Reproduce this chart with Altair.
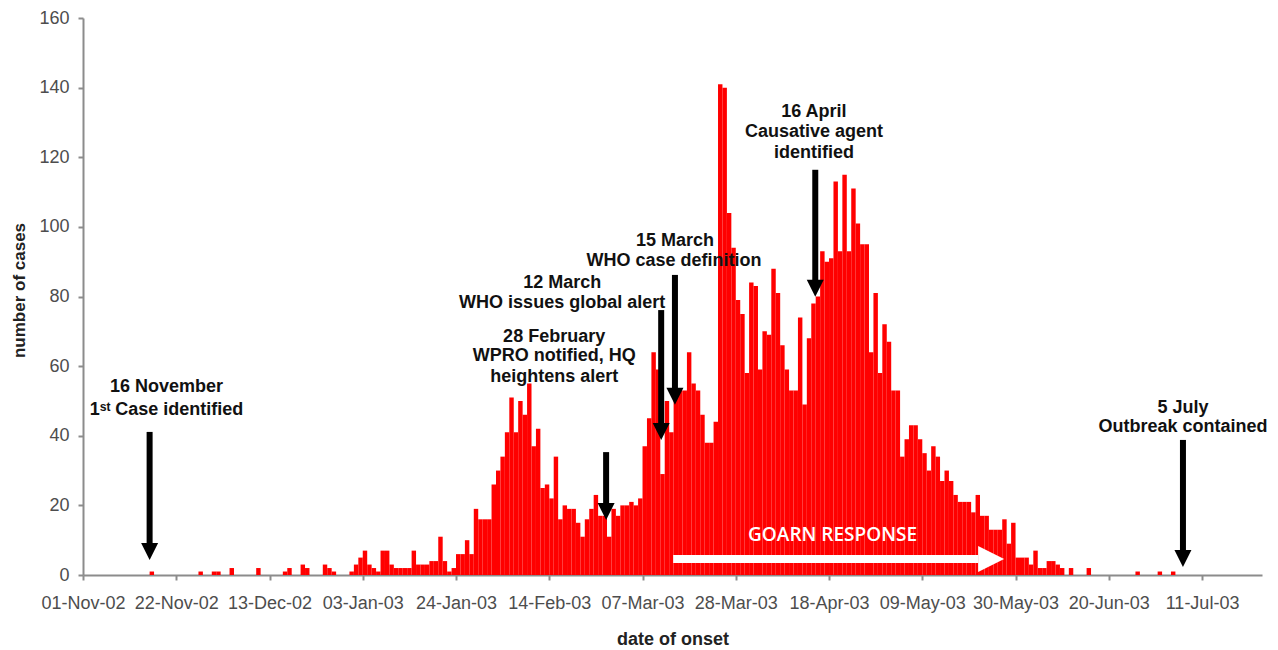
import altair as alt
import pandas as pd

START = "2002-11-01"
DAY_MS = 86_400_000

# daily number of cases by date of onset
nov = [0, 0, 0, 0, 0, 0, 0, 0, 0, 0, 0, 0, 0, 0, 0, 1, 0, 0, 0, 0, 0, 0, 0, 0, 0, 0, 1, 0, 0, 1]
dec = [1, 0, 0, 2, 0, 0, 0, 0, 0, 2, 0, 0, 0, 0, 0, 1, 2, 0, 0, 3, 2, 0, 0, 0, 3, 2, 1, 0, 0, 0, 1]
jan = [3, 5, 7, 3, 2, 1, 7, 7, 3, 2, 2, 2, 2, 7, 3, 3, 3, 4, 4, 11, 4, 1, 2, 6, 6, 10, 6, 19, 16, 16, 16]
feb = [26, 30, 34, 41, 51, 41, 50, 46, 55, 37, 42, 25, 26, 22, 34, 16, 20, 19, 19, 15, 11, 16, 19, 23,
       17, 17, 11, 19]
mar = [17, 20, 20, 21, 20, 22, 37, 45, 64, 59, 29, 50, 41, 53, 53, 53, 64, 55, 53, 46, 38, 38, 44, 141,
       140, 104, 94, 79, 75, 58, 84]
apr = [83, 59, 70, 69, 88, 81, 66, 59, 53, 53, 74, 49, 68, 78, 80, 93, 90, 91, 113, 93, 115, 93, 111,
       101, 95, 95, 64, 81, 58, 72]
may = [67, 53, 53, 34, 39, 43, 43, 39, 35, 30, 37, 34, 27, 30, 27, 23, 21, 21, 21, 18, 23, 17, 17, 13,
       13, 13, 16, 9, 15, 5, 5]
jun = [5, 3, 7, 2, 2, 4, 4, 3, 2, 0, 2, 0, 0, 0, 2, 0, 0, 0, 0, 0, 0, 0, 0, 0, 0, 1, 0, 0, 0, 0]
jul = [1, 0, 0, 1, 0, 0, 0, 0, 0, 0, 0, 0, 0, 0, 0, 0, 0, 0, 0, 0, 0, 0, 0, 0]
cases = nov + dec + jan + feb + mar + apr + may + jun + jul

# axis ticks: every 21 days from 01-Nov-02 to 11-Jul-03 (day offsets)
tick_days = [0, 21, 42, 63, 84, 105, 126, 147, 168, 189, 210, 231, 252]
x_domain_days = [0, 265.5]
y_ticks = [0, 20, 40, 60, 80, 100, 120, 140, 160]

# annotation text lines (day offset, value)
ann_lines = ["16 November", "1ˢᵗ Case identified",
             "28 February", "WPRO notified, HQ", "heightens alert",
             "12 March", "WHO issues global alert",
             "15 March", "WHO case definition",
             "16 April", "Causative agent", "identified",
             "5 July", "Outbreak contained"]
ann_days = [18.8, 18.8, 106.1, 106.1, 106.1, 107.9, 107.9, 133.3, 133.1,
            164.6, 164.6, 164.6, 247.7, 247.7]
ann_vals = [54.0, 47.4, 68.5, 62.8, 56.9, 83.9, 78.2, 96.0, 90.2,
            132.9, 127.2, 121.1, 48.0, 42.4]

# black arrows: day offset, top value, tip value
arrow_days = [15.0, 117.8, 130.2, 133.3, 164.9, 247.7]
arrow_tops = [41.1, 35.3, 76.1, 86.2, 116.4, 38.8]
arrow_tips = [4.3, 15.8, 38.8, 48.9, 79.9, 2.3]

# GOARN response arrow
goarn_days = [132.9, 201.6]
goarn_head_day = 204.5
goarn_val = 4.6
goarn_label = "GOARN RESPONSE"
goarn_label_day = 168.8
goarn_label_val = 11.6

t0 = int(pd.Timestamp(START).value // 10**6)


def ms(d):
    return t0 + d * DAY_MS


bars_df = pd.DataFrame({
    "t": [ms(i) for i in range(len(cases))],
    "t2": [ms(i + 1) for i in range(len(cases))],
    "v": cases,
})
bars_df = bars_df[bars_df["v"] > 0]

ann_df = pd.DataFrame({"t": [ms(d) for d in ann_days], "v": ann_vals, "label": ann_lines})
arrow_df = pd.DataFrame({"t": [ms(d) for d in arrow_days], "v": arrow_tops, "v2": arrow_tips})
head_df = pd.DataFrame({"t": [ms(d) for d in arrow_days], "v": arrow_tips})
goarn_df = pd.DataFrame({"t": [ms(goarn_days[0])], "t2": [ms(goarn_days[1])], "v": [goarn_val]})
goarn_head_df = pd.DataFrame({"t": [ms(goarn_head_day)], "v": [goarn_val]})
goarn_text_df = pd.DataFrame({"t": [ms(goarn_label_day)], "v": [goarn_label_val], "label": [goarn_label]})

AX_COLOR = "#8c8c8c"
LAB_COLOR = "#4d4d4d"
FONT = "Liberation Sans"

xscale = alt.Scale(type="utc", domain=[ms(x_domain_days[0]), ms(x_domain_days[1])], nice=False)
yscale = alt.Scale(domain=[0, 160], nice=False, zero=True)

xaxis = alt.Axis(
    values=[ms(d) for d in tick_days], format="%d-%b-%y", grid=False,
    labelFont=FONT, labelFontSize=18, labelColor=LAB_COLOR, labelPadding=14,
    labelFlush=False, labelOverlap=False, labelAngle=0,
    tickSize=5, tickColor=AX_COLOR, tickWidth=2,
    domainColor=AX_COLOR, domainWidth=2,
    title="date of onset", titleFont=FONT, titleFontSize=18, titleFontWeight="bold",
    titleColor="#222222", titleY=55, titleBaseline="top",
)
yaxis = alt.Axis(
    values=y_ticks, grid=False,
    labelFont=FONT, labelFontSize=18, labelColor=LAB_COLOR, labelPadding=9,
    tickSize=5, tickColor=AX_COLOR, tickWidth=2,
    domainColor=AX_COLOR, domainWidth=2,
    title="number of cases", titleFont=FONT, titleFontSize=17, titleFontWeight="bold",
    titleColor="#222222", titleX=-55, titleY=272, titleBaseline="bottom", titleAlign="center",
    titleAngle=270,
)

X = alt.X("t:T", scale=xscale, axis=xaxis)
Y = alt.Y("v:Q", scale=yscale, axis=yaxis)

bars = alt.Chart(bars_df).mark_rect(color="#ff0000", strokeWidth=0).encode(
    x=X, x2="t2:T", y=Y, y2=alt.datum(0)
)

goarn_rule = alt.Chart(goarn_df).mark_rule(color="white", strokeWidth=8, strokeCap="butt").encode(
    x=X, x2="t2:T", y=Y
)
goarn_head = alt.Chart(goarn_head_df).mark_point(
    shape="M-1,-1L1,0L-1,1Z", size=676, filled=True, color="white", opacity=1, strokeWidth=0
).encode(x=X, y=Y)
goarn_text = alt.Chart(goarn_text_df).mark_text(
    font="Open Sans", fontSize=19, fontWeight=600, color="white", align="center", baseline="middle"
).encode(x=X, y=Y, text="label:N")

arrow_rules = alt.Chart(arrow_df).mark_rule(
    color="black", strokeWidth=6, strokeCap="butt", y2Offset=-9
).encode(x=X, y=Y, y2="v2:Q")
arrow_heads = alt.Chart(head_df).mark_point(
    shape="M-1,-1L1,-1L0,1Z", size=289, filled=True, color="black", opacity=1, strokeWidth=0,
    yOffset=-8.5
).encode(x=X, y=Y)

ann_text = alt.Chart(ann_df).mark_text(
    font=FONT, fontSize=18, fontWeight="bold", color="#111111", align="center", baseline="middle"
).encode(x=X, y=Y, text="label:N")

chart = alt.layer(
    bars, goarn_rule, goarn_head, goarn_text, arrow_rules, arrow_heads, ann_text
).properties(
    width=1179, height=557,
    autosize=alt.AutoSizeParams(type="none"),
    padding={"left": 75, "top": 10, "right": 8, "bottom": 74},
    background="white",
).configure_view(stroke=None)

chart.save("out.html", embed_options={"renderer": "svg", "actions": False})
